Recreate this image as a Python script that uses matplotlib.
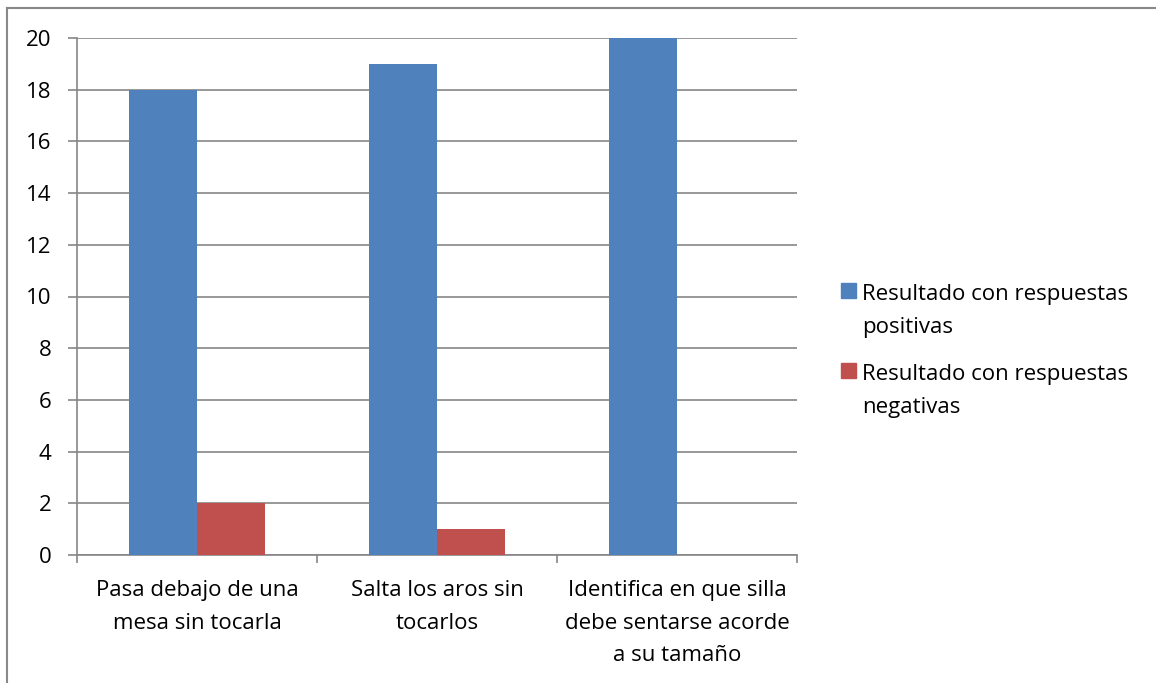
import matplotlib
matplotlib.use('Agg')
import matplotlib.pyplot as plt
from matplotlib.patches import Rectangle
import numpy as np

categories = ["Pasa debajo de una\nmesa sin tocarla",
              "Salta los aros sin\ntocarlos",
              "Identifica en que silla\ndebe sentarse acorde\na su tamaño"]
positivas = [18, 19, 20]
negativas = [2, 1, 0]
series_names = ["Resultado con respuestas\npositivas",
                "Resultado con respuestas\nnegativas"]
series_colors = ['#4F81BD', '#C0504D']
yticks = [0, 2, 4, 6, 8, 10, 12, 14, 16, 18, 20]

plt.rcParams['font.family'] = ['Open Sans', 'DejaVu Sans']
FS = 16

W, H = 1156, 683
fig = plt.figure(figsize=(W/100, H/100), dpi=100)
ax = fig.add_axes([77/W, 1-555/H, 720/W, 517/H])

x = np.arange(len(categories))
w = 0.285
ax.bar(x - w/2, positivas, w, color=series_colors[0], zorder=3)
ax.bar(x + w/2, negativas, w, color=series_colors[1], zorder=3)

ax.set_xlim(-0.5, len(categories) - 0.5)
ax.set_ylim(0, 20)
ax.set_yticks(yticks)
ax.tick_params(axis='y', labelsize=FS, length=6.5, width=1.2, color='#868686', pad=12)
ax.set_xticks(x)
ax.set_xticklabels(categories, fontsize=FS, linespacing=1.72, va='top')
ax.tick_params(axis='x', length=0, pad=18)
# separators between categories
ax.set_xticks(np.arange(-0.5, len(categories)), minor=True)
ax.tick_params(axis='x', which='minor', length=6, width=1.2, color='#868686')

ax.grid(axis='y', color='#868686', linewidth=1.2, zorder=0)
for s in ['top', 'right']:
    ax.spines[s].set_visible(False)
for s in ['left', 'bottom']:
    ax.spines[s].set_color('#868686')
    ax.spines[s].set_linewidth(1.2)

# legend, drawn by hand so the key sits on the first text line
for i, (name, col) in enumerate(zip(series_names, series_colors)):
    top = 283 + i * 80
    fig.add_artist(Rectangle((841/W, 1-(top+15)/H), 15/W, 15/H,
                             transform=fig.transFigure, color=col))
    fig.text(862/W, 1-(top+1)/H, name, fontsize=FS, va='top', ha='left',
             linespacing=1.72)

# chart area border
fig.add_artist(plt.Line2D([7/W, 7/W], [0, 1-8/H], color='#888888', lw=1.5))
fig.add_artist(plt.Line2D([7/W, 1], [1-8/H, 1-8/H], color='#888888', lw=1.5))

fig.savefig('out.png', dpi=100)
